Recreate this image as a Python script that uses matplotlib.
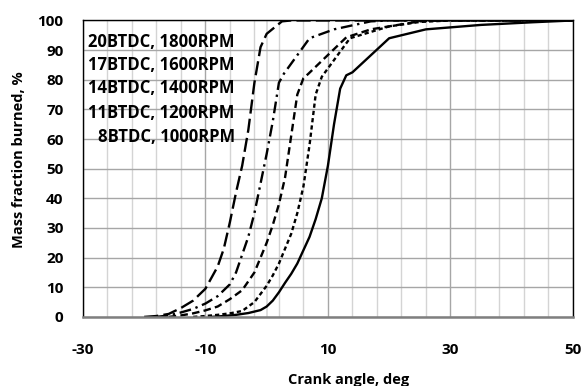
import matplotlib
matplotlib.use("Agg")
import matplotlib.pyplot as plt
import matplotlib.ticker as ticker
import numpy as np

plt.rcParams['font.family'] = ['Open Sans', 'DejaVu Sans']
plt.rcParams['font.weight'] = 'bold'
plt.rcParams['axes.unicode_minus'] = False

# Mass fraction burned curves
labels = ["20BTDC, 1800RPM", "17BTDC, 1600RPM", "14BTDC, 1400RPM",
          "11BTDC, 1200RPM", "8BTDC, 1000RPM"]

ca_20 = [-20, -18, -16, -14, -12, -10, -8, -7, -6, -5, -4, -3, -2, -1, 0, 2.5, 4, 50]
mfb_20 = [0, 0.3, 1, 3, 5.5, 9.5, 17, 23, 32, 42, 51, 63, 79, 91, 95.5, 99.7, 100, 100]

ca_17 = [-18, -16, -14, -12, -10, -8, -6, -5, -4, -3, -2, -1, 0, 1, 2, 2.8, 7, 11, 17, 20, 50]
mfb_17 = [0, 0.5, 1.5, 2.7, 4.5, 7, 11, 15, 21, 27, 35, 45, 55, 66, 79, 82, 94, 97, 99.7, 100, 100]

ca_14 = [-16, -14, -12, -10, -8, -6, -4, -2, -1, 0, 1, 2, 3, 4, 5, 6, 6.8, 13, 17, 25, 28, 50]
mfb_14 = [0, 0.5, 1.2, 2.2, 3.5, 6, 9, 15, 20, 25, 31, 38, 47, 61, 75, 80.5, 82, 94.3, 97, 99.7, 100, 100]

ca_11 = [-12, -10, -8, -6, -4, -2, 0, 1, 2, 3, 4, 5, 6, 7, 8, 9, 13.6, 20, 25, 30, 50]
mfb_11 = [0, 0.3, 0.7, 1.2, 2, 5, 10.5, 14, 18, 23, 28, 35, 44, 58, 75, 81, 94, 98, 99.5, 100, 100]

ca_8 = [-9, -7, -5, -3, -1, 0, 1, 2, 3, 4, 5, 6, 7, 8, 9, 10, 11, 12, 13, 14, 20, 26, 35, 43.5, 50]
mfb_8 = [0, 0.3, 0.7, 1.3, 2.3, 3.5, 5.5, 8.3, 11.5, 14.5, 18, 22.5, 27, 33, 40, 51, 65, 77, 81.5, 82.5, 94, 97, 98.5, 99.4, 100]

x_ticks = [-30, -10, 10, 30, 50]
y_ticks = list(range(0, 101, 10))

fig = plt.figure(figsize=(5.84, 3.86), dpi=100)
ax = fig.add_axes([0.142, 0.179, 0.839, 0.768])

# grid first so curves sit on top
ax.set_axisbelow(True)
ax.xaxis.set_minor_locator(ticker.FixedLocator(np.arange(-30, 51, 4)))
ax.grid(which='minor', axis='x', color='#d4d4d4', lw=1)
ax.grid(which='major', axis='x', color='#a6a6a6', lw=1)
ax.grid(which='major', axis='y', color='#a6a6a6', lw=1)
ax.axvline(0, color='#d9d9d9', lw=1.2, zorder=0.5)

lw = 1.7
ax.plot(ca_20, mfb_20, color='black', lw=lw, dashes=(6, 2.2))
ax.plot(ca_17, mfb_17, color='black', lw=lw, dashes=(5, 2, 1, 2))
ax.plot(ca_14, mfb_14, color='black', lw=lw, dashes=(3.2, 1.8))
ax.plot(ca_11, mfb_11, color='black', lw=lw, dashes=(1.8, 1.3))
ax.plot(ca_8, mfb_8, color='black', lw=lw)

ax.set_xlim(-30, 50)
ax.set_ylim(0, 100)
ax.set_xticks(x_ticks)
ax.set_yticks(y_ticks)
ax.tick_params(which='both', length=0)
ax.tick_params(axis='y', pad=14, labelsize=11)
ax.tick_params(axis='x', pad=19, labelsize=11)

for s in ['left', 'right', 'top']:
    ax.spines[s].set_color('black')
    ax.spines[s].set_linewidth(1)
ax.spines['bottom'].set_color('#7f7f7f')
ax.spines['bottom'].set_linewidth(1.8)

# curve labels, right aligned
label_y = [92.9, 85.0, 77.1, 68.7, 60.6]
for txt, yy in zip(labels, label_y):
    ax.text(-5.2, yy, txt, ha='right', va='center', fontsize=12, fontweight='bold')

fig.text(349 / 584, 1 - 380 / 386, "Crank angle, deg", ha='center', va='center',
         fontsize=10.5, fontweight='bold')
fig.text(19 / 584, 1 - 160 / 386, "Mass fraction burned, %", ha='center', va='center',
         rotation=90, fontsize=10.5, fontweight='bold')

fig.savefig("out.png", dpi=100)
